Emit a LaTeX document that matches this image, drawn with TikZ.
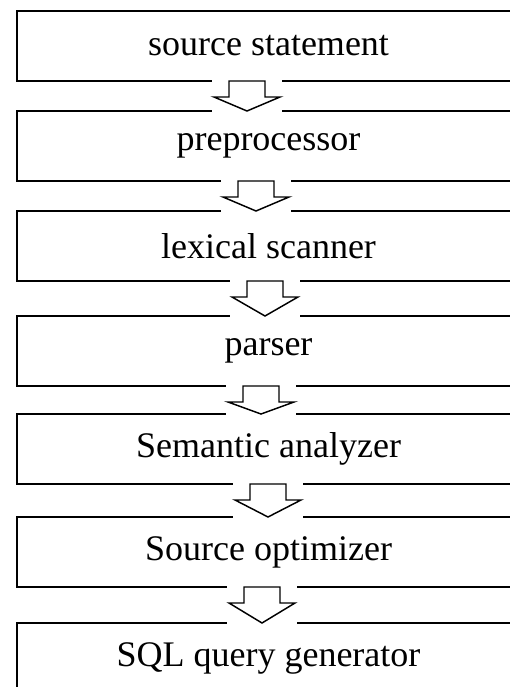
\documentclass[tikz,border=0pt]{standalone}
\usepackage{fontspec}
\setmainfont{Liberation Serif}
\usetikzlibrary{positioning,calc}

% block arrow between two stages: from, to, x of the arrow
\newcommand{\flowarrow}[3]{%
  \coordinate (ax) at (#3,0);
  \coordinate (arrtop) at (#1.south -| ax);
  \coordinate (arrtip) at (#2.north -| ax);
  \fill[white] ($(arrtop)+(-35,-3)$) rectangle ($(arrtip)+(35,3)$);
  \draw[blockarrow] ($(arrtop)+(-18,0)$) -- ($(arrtop)+(18,0)$) -- ($(arrtop)+(18,16)$)
    -- ($(arrtop)+(33,16)$) -- (arrtip) -- ($(arrtop)+(-33,16)$) -- ($(arrtop)+(-18,16)$) -- cycle;
}

\begin{document}
\begin{tikzpicture}[x=0.75pt, y=-0.75pt,
stagenode/.style={rectangle, draw=black, line width=1.5pt, minimum width=377.25pt, minimum height=52.5pt, inner sep=0pt, outer sep=0pt, font=\fontsize{27}{31}\selectfont},
blockarrow/.style={draw=black, fill=white, line width=1.1pt, line join=miter},
]
\useasboundingbox (0,0) rectangle (510,687);
\clip (0,0) rectangle (510,687);

%Nodes
\node[stagenode]      (source)      at (268.5,46)               {source statement};
\node[stagenode]      (preproc)     [below=22.5pt of source]    {preprocessor};
\node[stagenode]      (lexer)       [below=22.5pt of preproc]   {lexical scanner};
\node[stagenode]      (parser)      [below=26.25pt of lexer]    {parser};
\node[stagenode]      (semantic)    [below=21pt of parser]      {Semantic analyzer};
\node[stagenode]      (optimizer)   [below=24.75pt of semantic] {Source optimizer};
\node[stagenode]      (sqlgen)      [below=27pt of optimizer]   {SQL query generator};

%Arrows
\flowarrow{source}{preproc}{247}
\flowarrow{preproc}{lexer}{256}
\flowarrow{lexer}{parser}{265}
\flowarrow{parser}{semantic}{261}
\flowarrow{semantic}{optimizer}{268}
\flowarrow{optimizer}{sqlgen}{262}
\end{tikzpicture}
\end{document}
